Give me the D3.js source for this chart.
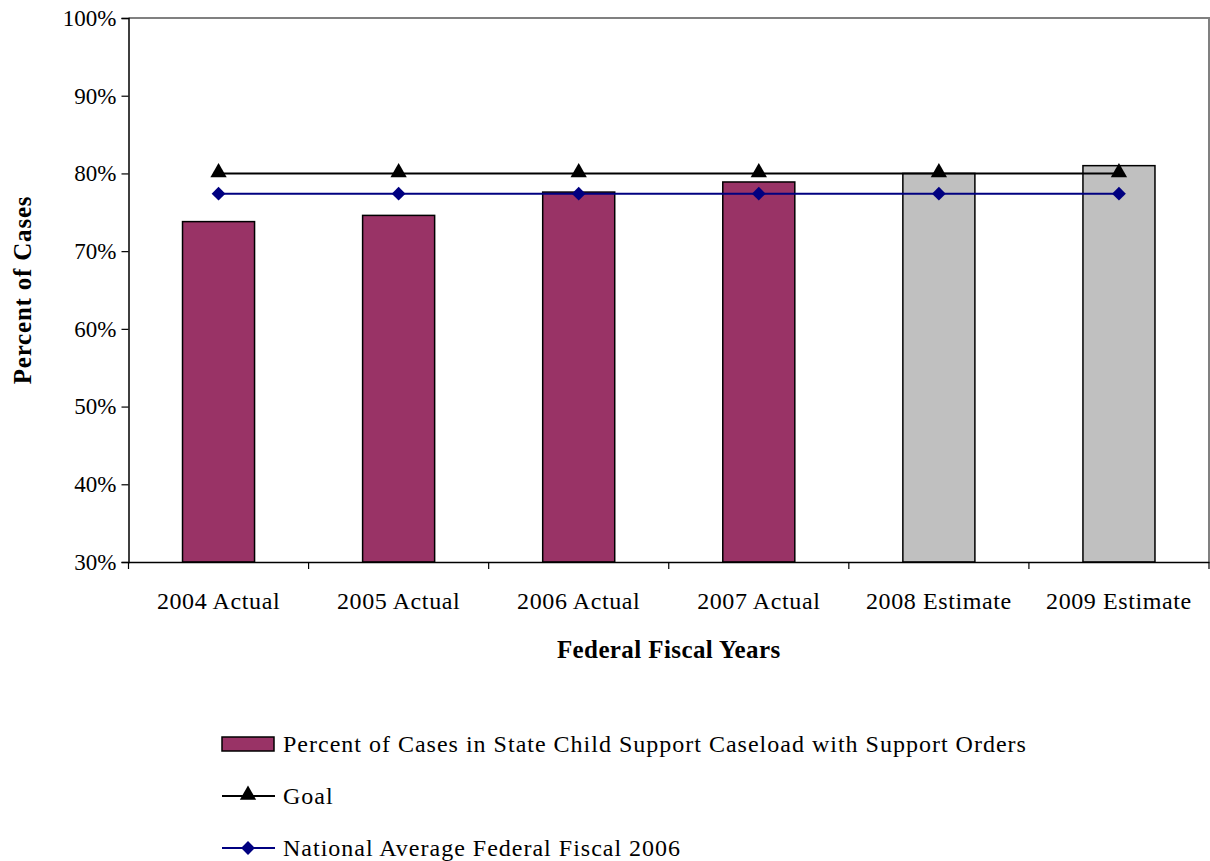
<!DOCTYPE html>
<html>
<head>
<meta charset="utf-8">
<script src="https://cdn.jsdelivr.net/npm/d3@7/dist/d3.min.js"></script>
<style>
  html, body { margin: 0; padding: 0; background: #fff; }
  svg { display: block; font-family: "Liberation Serif", "Times New Roman", serif; }
</style>
</head>
<body>
<svg id="chart" width="1210" height="861"></svg>
<script>
// Fiscal years shown on the x axis
const categories = ["2004 Actual", "2005 Actual", "2006 Actual", "2007 Actual", "2008 Estimate", "2009 Estimate"];
// Percent of cases in the state caseload with support orders
const caseValues = [73.8, 74.6, 77.6, 78.9, 80.0, 81.0];
// Which bars are projections (drawn grey)
const isEstimate = [false, false, false, false, true, true];
// Goal line
const goalValues = [80, 80, 80, 80, 80, 80];
// National average for FFY 2006
const nationalValues = [77.4, 77.4, 77.4, 77.4, 77.4, 77.4];
// Y axis ticks
const yTicks = [30, 40, 50, 60, 70, 80, 90, 100];

const svg = d3.select("#chart");
const plot = { left: 128.5, right: 1209, top: 18, bottom: 562 };

const x = d3.scaleBand().domain(categories).range([plot.left, plot.right]).paddingInner(0).paddingOuter(0);
const y = d3.scaleLinear().domain([30, 100]).range([plot.bottom, plot.top]);
const barW = x.bandwidth() / 2.5;

// plot frame: grey top and right edges
svg.append("path")
  .attr("d", `M${plot.left},${plot.top}H${plot.right}V${plot.bottom}`)
  .attr("fill", "none").attr("stroke", "#808080").attr("stroke-width", 2);

// bars
svg.append("g").selectAll("rect")
  .data(categories)
  .join("rect")
  .attr("x", (d) => x(d) + (x.bandwidth() - barW) / 2)
  .attr("y", (d, i) => y(caseValues[i]))
  .attr("width", barW)
  .attr("height", (d, i) => y(30) - y(caseValues[i]))
  .attr("fill", (d, i) => isEstimate[i] ? "#C0C0C0" : "#993366")
  .attr("stroke", "#000").attr("stroke-width", 1.5);

// y axis
const yAxis = svg.append("g")
  .attr("transform", `translate(${plot.left},0)`)
  .call(d3.axisLeft(y).tickValues(yTicks).tickFormat((d) => d + "%").tickSize(7).tickPadding(5));
yAxis.select(".domain").attr("stroke", "#000").attr("stroke-width", 1.5);
yAxis.selectAll(".tick line").attr("stroke", "#000").attr("stroke-width", 1.2);
yAxis.selectAll(".tick text")
  .attr("font-size", 23).attr("fill", "#000")
  .attr("font-family", "Liberation Serif");

// x axis, ticks on the category boundaries
const xAxis = svg.append("g")
  .attr("transform", `translate(0,${plot.bottom})`)
  .call(d3.axisBottom(x).tickSize(0).tickPadding(30));
xAxis.select(".domain").attr("stroke", "#000").attr("stroke-width", 1.5);
xAxis.selectAll(".tick text")
  .attr("font-size", 24).attr("letter-spacing", 0.6).attr("fill", "#000")
  .attr("font-family", "Liberation Serif");
xAxis.selectAll(".boundary")
  .data(d3.range(categories.length + 1))
  .join("line")
  .attr("class", "boundary")
  .attr("x1", (i) => plot.left + i * x.step())
  .attr("x2", (i) => plot.left + i * x.step())
  .attr("y1", 0).attr("y2", 7)
  .attr("stroke", "#000").attr("stroke-width", 1.2);

const cx = (d) => x(d) + x.bandwidth() / 2;
const triangle = d3.symbol().type(d3.symbolTriangle).size(115);
const diamond = d3.symbol().type(d3.symbolSquare).size(95);

// goal line
svg.append("path")
  .datum(categories)
  .attr("d", d3.line().x(cx).y((d, i) => y(goalValues[i])))
  .attr("fill", "none").attr("stroke", "#000").attr("stroke-width", 2);
svg.append("g").selectAll("path")
  .data(categories)
  .join("path")
  .attr("d", triangle)
  .attr("transform", (d, i) => `translate(${cx(d)},${y(goalValues[i]) - 1})`)
  .attr("fill", "#000");

// national average line
svg.append("path")
  .datum(categories)
  .attr("d", d3.line().x(cx).y((d, i) => y(nationalValues[i])))
  .attr("fill", "none").attr("stroke", "#000080").attr("stroke-width", 2);
svg.append("g").selectAll("path")
  .data(categories)
  .join("path")
  .attr("d", diamond)
  .attr("transform", (d, i) => `translate(${cx(d)},${y(nationalValues[i])}) rotate(45)`)
  .attr("fill", "#000080");

// axis titles
svg.append("text")
  .attr("x", (plot.left + plot.right) / 2).attr("y", 658)
  .attr("text-anchor", "middle").attr("font-size", 25).attr("letter-spacing", 0.4)
  .attr("font-weight", "bold")
  .text("Federal Fiscal Years");
svg.append("text")
  .attr("transform", `translate(31,${(plot.top + plot.bottom) / 2}) rotate(-90)`)
  .attr("text-anchor", "middle").attr("font-size", 25).attr("letter-spacing", 0.8)
  .attr("font-weight", "bold")
  .text("Percent of Cases");

// legend
const legendItems = [
  { label: "Percent of Cases in State Child Support Caseload with Support Orders", kind: "bar" },
  { label: "Goal", kind: "goal" },
  { label: "National Average Federal Fiscal 2006", kind: "national" }
];
const legend = svg.append("g");
legendItems.forEach((item, i) => {
  const cy = 744 + i * 52;
  const g = legend.append("g");
  if (item.kind === "bar") {
    g.append("rect").attr("x", 222).attr("y", cy - 7).attr("width", 52).attr("height", 14)
      .attr("fill", "#993366").attr("stroke", "#000").attr("stroke-width", 1.5);
  } else {
    const color = item.kind === "goal" ? "#000" : "#000080";
    g.append("line").attr("x1", 222).attr("x2", 275).attr("y1", cy).attr("y2", cy)
      .attr("stroke", color).attr("stroke-width", 2);
    g.append("path")
      .attr("d", item.kind === "goal" ? triangle : diamond)
      .attr("transform", `translate(248,${item.kind === "goal" ? cy - 1 : cy})${item.kind === "goal" ? "" : " rotate(45)"}`)
      .attr("fill", color);
  }
  g.append("text").attr("x", 283).attr("y", cy + 8)
    .attr("font-size", 24).attr("letter-spacing", 1).text(item.label);
});
</script>
</body>
</html>
